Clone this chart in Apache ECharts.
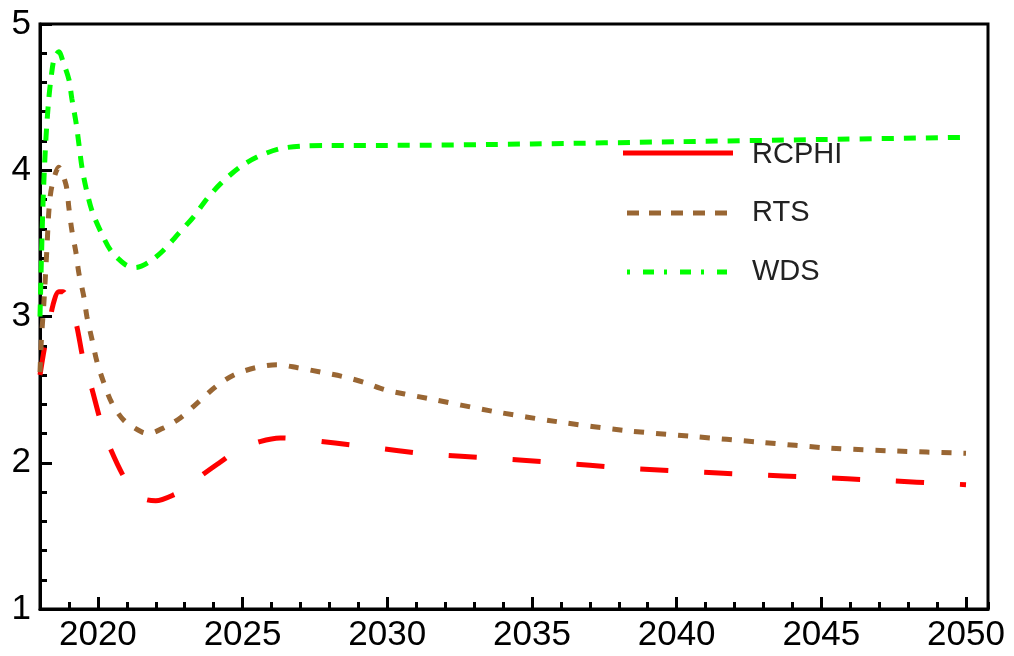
<!DOCTYPE html>
<html>
<head>
<meta charset="utf-8">
<script src="https://cdn.jsdelivr.net/npm/echarts@6/dist/echarts.min.js"></script>
<style>
html,body{margin:0;padding:0;background:#fff;}
#chart{width:1014px;height:656px;}
</style>
</head>
<body>
<div id="chart"></div>
<script>
// ---- data ----
const seriesNames = ['RCPHI', 'RTS', 'WDS'];

const rcphiYears = [2018.0, 2018.15, 2018.3, 2018.45, 2018.65, 2018.8, 2018.95, 2019.24, 2019.5, 2019.76, 2020.1, 2020.38, 2020.97, 2021.52, 2022.0, 2022.73, 2023.1, 2023.5, 2024.2, 2024.87, 2025.6, 2026.3, 2027.08, 2028.2, 2029.25, 2031.4, 2033.7, 2035.9, 2038.1, 2040.35, 2042.55, 2044.8, 2047.0, 2050.0];
const rcphiValues = [2.6, 2.78, 2.92, 3.08, 3.17, 3.17, 3.12, 2.96, 2.70, 2.53, 2.28, 2.12, 1.88, 1.76, 1.74, 1.79, 1.83, 1.90, 2.0, 2.09, 2.145, 2.17, 2.16, 2.135, 2.11, 2.06, 2.03, 2.00, 1.965, 1.94, 1.92, 1.90, 1.88, 1.85];

const rtsYears = [2018.0, 2018.05, 2018.14, 2018.24, 2018.31, 2018.41, 2018.65, 2018.9, 2019.0, 2019.1, 2019.24, 2019.34, 2019.52, 2019.62, 2019.8, 2019.97, 2020.2, 2020.48, 2020.9, 2021.52, 2021.76, 2022.28, 2022.87, 2023.5, 2024.07, 2024.7, 2025.45, 2026.2, 2026.9, 2027.7, 2028.45, 2029.2, 2029.9, 2030.6, 2031.4, 2033.7, 2035.9, 2038.25, 2040.55, 2042.9, 2045.3, 2047.6, 2050.0];
const rtsValues = [2.62, 2.85, 3.11, 3.47, 3.73, 3.89, 4.02, 3.90, 3.74, 3.59, 3.44, 3.30, 3.13, 3.0, 2.84, 2.69, 2.55, 2.41, 2.29, 2.21, 2.20, 2.24, 2.31, 2.42, 2.52, 2.60, 2.65, 2.67, 2.65, 2.62, 2.59, 2.55, 2.50, 2.47, 2.44, 2.35, 2.28, 2.22, 2.18, 2.14, 2.10, 2.08, 2.065];

const wdsYears = [2018.0, 2018.1, 2018.2, 2018.3, 2018.4, 2018.5, 2018.65, 2018.8, 2019.0, 2019.1, 2019.25, 2019.35, 2019.45, 2019.6, 2019.8, 2020.1, 2020.45, 2020.95, 2021.3, 2021.75, 2022.25, 2022.8, 2023.3, 2023.75, 2024.25, 2024.9, 2025.5, 2026.25, 2027.0, 2028.0, 2030.0, 2035.0, 2040.0, 2045.0, 2050.0];
const wdsValues = [3.0, 3.75, 4.2, 4.48, 4.66, 4.77, 4.81, 4.74, 4.62, 4.49, 4.32, 4.17, 4.02, 3.87, 3.72, 3.58, 3.45, 3.355, 3.335, 3.37, 3.45, 3.57, 3.68, 3.80, 3.91, 4.02, 4.09, 4.145, 4.165, 4.17, 4.17, 4.18, 4.195, 4.21, 4.225];

const xMajorTicks = [2020, 2025, 2030, 2035, 2040, 2045, 2050];

// ---- chart ----
const pair = (xs, ys) => xs.map((x, i) => [x, ys[i]]);
const FONT = "'Liberation Sans', Arial, sans-serif";
const xMin = 2018, xMax = 2050.76;

const chart = echarts.init(document.getElementById('chart'), null, {renderer: 'canvas'});

function lineSeries(name, xs, ys, color, dash) {
  return {
    name: name,
    type: 'line',
    xAxisIndex: 0,
    yAxisIndex: 0,
    data: pair(xs, ys),
    symbol: 'none',
    smooth: 0.3,
    lineStyle: {color: color, width: 5, type: dash, cap: 'butt'},
    z: 3
  };
}

const option = {
  animation: false,
  backgroundColor: '#fff',
  grid: {
    left: 40, top: 24, right: 26, bottom: 47,
    show: true, borderColor: '#000', borderWidth: 3, backgroundColor: 'transparent',
    containLabel: false
  },
  xAxis: [
    {
      type: 'value', min: xMin, max: xMax,
      axisLine: {show: true, onZero: false, lineStyle: {color: '#000', width: 3}},
      axisTick: {show: true, inside: true, length: 12, lineStyle: {color: '#000', width: 3}, customValues: xMajorTicks},
      axisLabel: {show: true, customValues: xMajorTicks, color: '#000', fontSize: 35, fontFamily: FONT, margin: 9,
                  formatter: v => String(Math.round(v))},
      splitLine: {show: false}
    },
    {
      type: 'value', min: xMin, max: xMax, interval: 1, position: 'bottom',
      axisLine: {show: false, onZero: false},
      axisTick: {show: true, inside: true, length: 7, lineStyle: {color: '#000', width: 3}},
      axisLabel: {show: false},
      splitLine: {show: false}
    }
  ],
  yAxis: [
    {
      type: 'value', min: 1, max: 5, interval: 1,
      axisLine: {show: true, onZero: false, lineStyle: {color: '#000', width: 3}},
      axisTick: {show: true, inside: true, length: 12, lineStyle: {color: '#000', width: 3}},
      minorTick: {show: true, splitNumber: 5, length: 7, lineStyle: {color: '#000', width: 3}},
      axisLabel: {show: true, color: '#000', fontSize: 35, fontFamily: FONT, margin: 9},
      splitLine: {show: false},
      minorSplitLine: {show: false}
    }
  ],
  series: [
    lineSeries(seriesNames[0], rcphiYears, rcphiValues, '#ff0000', [28, 36]),
    lineSeries(seriesNames[1], rtsYears, rtsValues, '#996633', [10, 12]),
    lineSeries(seriesNames[2], wdsYears, wdsValues, '#00ff00', [12, 10])
  ],
  graphic: [
    {type: 'line', shape: {x1: 623, y1: 153, x2: 733, y2: 153}, style: {stroke: '#ff0000', lineWidth: 5}, z: 10},
    {type: 'text', left: 752, top: 140, style: {text: seriesNames[0], fill: '#222', font: "29px 'Liberation Sans', Arial, sans-serif"}, z: 10},
    {type: 'line', shape: {x1: 627, y1: 213, x2: 727, y2: 213}, style: {stroke: '#996633', lineWidth: 5, lineDash: [12, 10]}, z: 10},
    {type: 'text', left: 752, top: 198, style: {text: seriesNames[1], fill: '#222', font: "29px 'Liberation Sans', Arial, sans-serif"}, z: 10},
    {type: 'line', shape: {x1: 627, y1: 272, x2: 727, y2: 272}, style: {stroke: '#00ff00', lineWidth: 5, lineDash: [3, 13, 11, 10]}, z: 10},
    {type: 'text', left: 752, top: 257, style: {text: seriesNames[2], fill: '#222', font: "29px 'Liberation Sans', Arial, sans-serif"}, z: 10}
  ]
};
chart.setOption(option);
</script>
</body>
</html>
